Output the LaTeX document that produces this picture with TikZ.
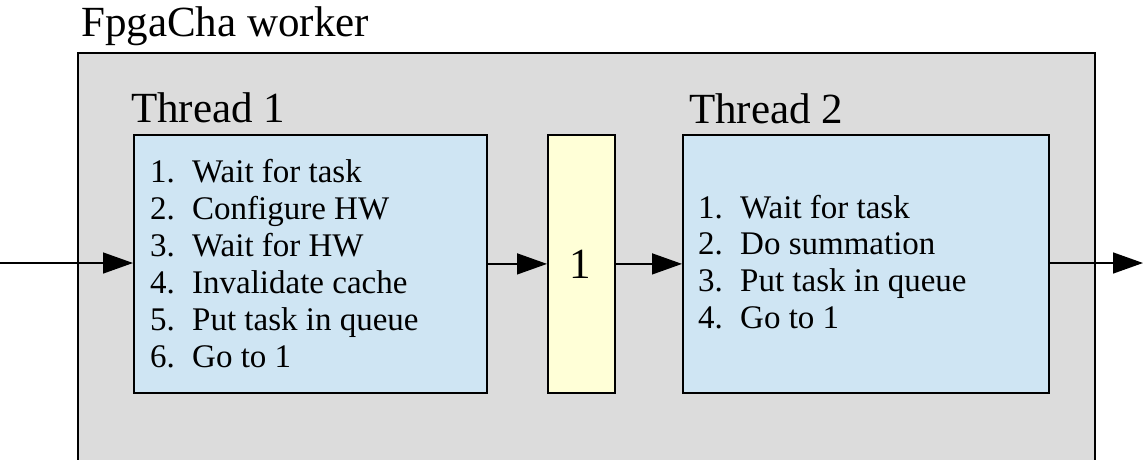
\documentclass[tikz,border=0pt]{standalone}
\usepackage{fontspec}
\setmainfont{Liberation Serif}
\usetikzlibrary{arrows.meta}
\definecolor{bggray}{HTML}{DCDCDC}
\definecolor{thblue}{HTML}{CFE5F3}
\definecolor{qyellow}{HTML}{FFFFD7}
\tikzset{
  workerbox/.style={draw=black, line width=2pt, fill=bggray},
  threadbox/.style={draw=black, line width=1.8pt, fill=thblue},
  queuebox/.style={draw=black, line width=1.8pt, fill=qyellow},
  heading/.style={anchor=base west, inner sep=0pt, font=\fontsize{43}{50}\selectfont},
  item/.style={anchor=base west, inner sep=0pt, font=\fontsize{33}{38}\selectfont},
  flow/.style={line width=1.5pt, -{Triangle[length=30pt,width=21pt]}},
}
\begin{document}
\begin{tikzpicture}[x=1pt,y=-1pt]
\useasboundingbox (0,0) rectangle (1144,459);
\clip (0,0) rectangle (1144,459);
% outer worker box
\draw[workerbox] (78,53) rectangle (1095,475);
\node[heading] (title) at (81,36) {FpgaCha worker};
% thread boxes
\node[threadbox, minimum width=353pt, minimum height=258pt, inner sep=0pt, anchor=north west] (t1) at (133,134) {};
\node[queuebox, minimum width=67pt, minimum height=258pt, inner sep=0pt, anchor=north west] (q) at (547,134) {};
\node[threadbox, minimum width=366pt, minimum height=258pt, inner sep=0pt, anchor=north west] (t2) at (682,134) {};
\node[heading] (t1label) at (131,122) {Thread 1};
\node[heading] (t2label) at (689,123) {Thread 2};
\node[anchor=base, inner sep=0pt, font=\fontsize{43}{50}\selectfont] (qlabel) at (580.5,278) {1};
% Thread 1 list
\foreach \n/\txt [count=\k from 0] in {1/Wait for task, 2/Configure HW, 3/Wait for HW, 4/Invalidate cache, 5/Put task in queue, 6/Go to 1}{
  \node[item] (a\n) at (150,182+37*\k) {\makebox[42pt][l]{\n.}\txt};
}
% Thread 2 list
\foreach \n/\txt [count=\k from 0] in {1/Wait for task, 2/Do summation, 3/Put task in queue, 4/Go to 1}{
  \node[item] (b\n) at (698,218+36.8*\k) {\makebox[42pt][l]{\n.}\txt};
}
% connectors
\coordinate (in) at (0,263);
\coordinate (out) at (1143,263);
\draw[flow] (in) -- (in -| t1.west);
\draw[flow] (t1.east |- q) -- (q.west);
\draw[flow] (q.east) -- (t2.west |- q);
\draw[flow] (t2.east |- out) -- (out);
\end{tikzpicture}
\end{document}
